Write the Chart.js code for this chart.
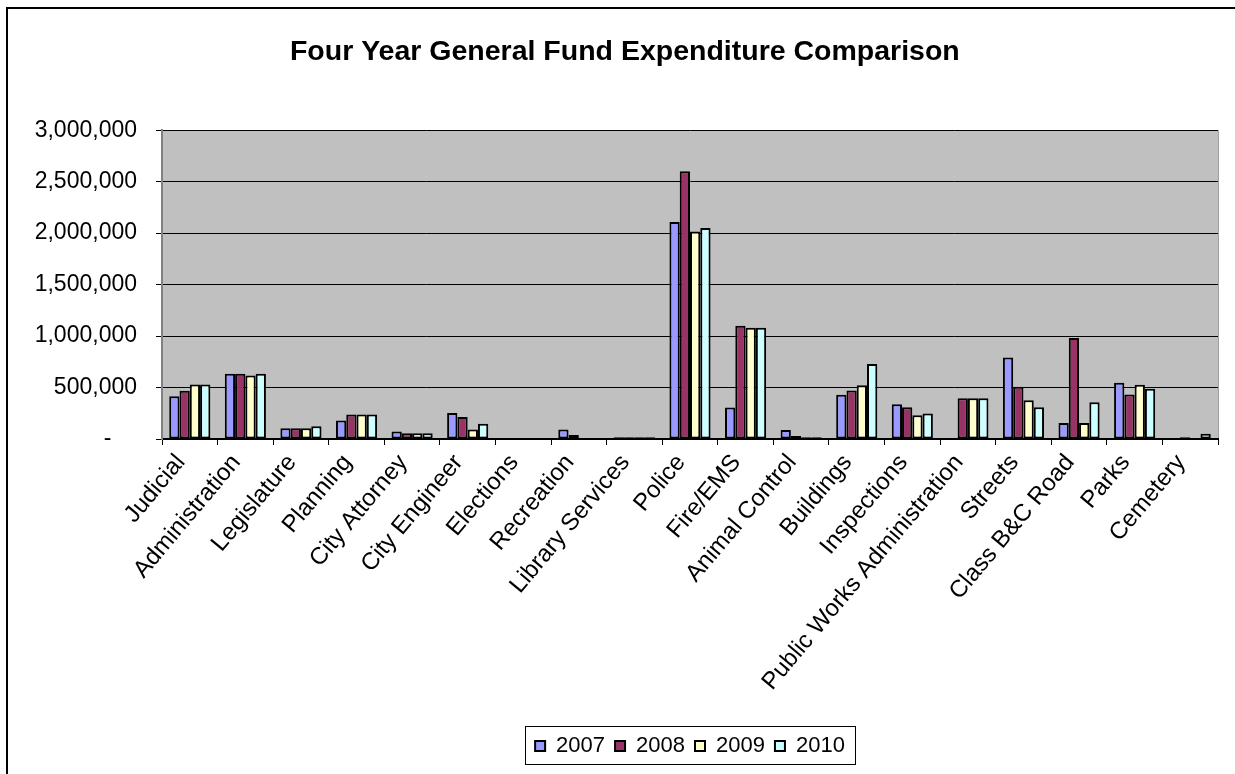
<!DOCTYPE html>
<html>
<head>
<meta charset="utf-8">
<script src="https://cdn.jsdelivr.net/npm/chart.js@4.4.0/dist/chart.umd.min.js"></script>
<style>
  html, body { margin: 0; background: #fff; overflow: hidden; }
  #wrap { position: absolute; left: 0; top: 0; width: 1235px; height: 774px; }
</style>
</head>
<body>
<div id="wrap"><canvas id="expChart" width="1235" height="774"></canvas></div>
<script>
const departments = ['Judicial', 'Administration', 'Legislature', 'Planning', 'City Attorney',
  'City Engineer', 'Elections', 'Recreation', 'Library Services', 'Police', 'Fire/EMS',
  'Animal Control', 'Buildings', 'Inspections', 'Public Works Administration', 'Streets',
  'Class B&C Road', 'Parks', 'Cemetery'];

const fy2007 = [416000, 633000, 104000, 179000, 74000, 253000, 0, 93000, 17000, 2109000,
  306000, 88000, 429000, 338000, 0, 792000, 156000, 546000, 0];
const fy2008 = [468000, 633000, 104000, 237000, 55000, 214000, 0, 39000, 17000, 2600000,
  1101000, 30000, 471000, 309000, 397000, 507000, 981000, 432000, 17000];
const fy2009 = [530000, 617000, 104000, 237000, 55000, 93000, 0, 0, 17000, 2015000,
  1082000, 16000, 523000, 231000, 397000, 377000, 156000, 526000, 0];
const fy2010 = [530000, 633000, 124000, 237000, 55000, 148000, 0, 0, 17000, 2051000,
  1082000, 16000, 728000, 247000, 397000, 309000, 357000, 487000, 52000];

const yTickValues = [0, 500000, 1000000, 1500000, 2000000, 2500000, 3000000];

Chart.defaults.font.family = "'Liberation Sans', Arial, sans-serif";
Chart.defaults.color = '#000';

function withCommas(n) {
  return String(n).replace(/\B(?=(\d{3})+(?!\d))/g, ',');
}

// outer frame, grey plot area, frame round the legend
const plotDecor = {
  id: 'plotDecor',
  beforeDraw(chart) {
    const a = chart.chartArea;
    const ctx = chart.ctx;
    ctx.save();
    ctx.fillStyle = '#000';
    ctx.fillRect(6, 7, chart.width, 2);
    ctx.fillRect(6, 7, 2, chart.height);
    ctx.fillStyle = '#C0C0C0';
    ctx.fillRect(a.left, a.top, a.right - a.left, a.bottom - a.top);
    ctx.strokeStyle = '#A0A0A0';
    ctx.lineWidth = 1;
    ctx.beginPath();
    ctx.moveTo(a.right + 0.5, a.top);
    ctx.lineTo(a.right + 0.5, a.bottom);
    ctx.stroke();
    ctx.restore();
  },
  afterDraw(chart) {
    const boxes = chart.legend.legendHitBoxes;
    if (!boxes || !boxes.length) return;
    const left = Math.min(...boxes.map(b => b.left));
    const right = Math.max(...boxes.map(b => b.left + b.width));
    const top = Math.min(...boxes.map(b => b.top));
    const bottom = Math.max(...boxes.map(b => b.top + b.height));
    const ctx = chart.ctx;
    ctx.save();
    ctx.strokeStyle = '#000';
    ctx.lineWidth = 1;
    ctx.strokeRect(Math.round(left - 10) + 0.5, Math.round(top - 9) + 0.5,
      Math.round(right - left + 20), Math.round(bottom - top + 16));
    ctx.restore();
  }
};

const ctx = document.getElementById('expChart').getContext('2d');
const expChart = new Chart(ctx, {
  type: 'bar',
  data: {
    labels: departments,
    datasets: [
      { label: '2007', data: fy2007, backgroundColor: '#9999FF' },
      { label: '2008', data: fy2008, backgroundColor: '#993366' },
      { label: '2009', data: fy2009, backgroundColor: '#FFFFCC' },
      { label: '2010', data: fy2010, backgroundColor: '#CCFFFF' }
    ]
  },
  options: {
    responsive: false,
    animation: false,
    datasets: {
      bar: {
        borderColor: '#000',
        borderWidth: 2,
        borderSkipped: false,
        categoryPercentage: 0.74,
        barPercentage: 1.0
      }
    },
    layout: { padding: { top: 0, right: 17, bottom: 7, left: 0 } },
    plugins: {
      title: {
        display: true,
        text: '    Four Year General Fund Expenditure Comparison',
        font: { size: 28.5, weight: 'bold' },
        padding: { top: 35, bottom: 61 }
      },
      legend: {
        position: 'bottom',
        fullSize: false,
        labels: {
          font: { size: 22 },
          boxWidth: 10,
          boxHeight: 10,
          padding: 10,
          color: '#000'
        }
      },
      tooltip: { enabled: false }
    },
    scales: {
      x: {
        grid: {
          drawOnChartArea: false,
          drawTicks: true,
          tickLength: 6,
          color: '#000'
        },
        border: { color: '#000', width: 2 },
        ticks: {
          autoSkip: false,
          minRotation: 50,
          maxRotation: 50,
          padding: 4,
          labelOffset: -9,
          font: { size: 24 }
        },
        afterFit(scale) { scale.height = 286; }
      },
      y: {
        min: 0,
        max: 3000000,
        afterBuildTicks(scale) {
          scale.ticks = yTickValues.map(v => ({ value: v }));
        },
        grid: {
          color: '#000',
          lineWidth: 1,
          tickLength: 6,
          tickColor: '#000'
        },
        border: { color: '#808080', width: 2 },
        ticks: {
          padding: 19,
          font: { size: 23 },
          callback: v => v === 0 ? '-    ' : withCommas(v)
        },
        afterFit(scale) { scale.width = 162; }
      }
    }
  },
  plugins: [plotDecor]
});
</script>
</body>
</html>
